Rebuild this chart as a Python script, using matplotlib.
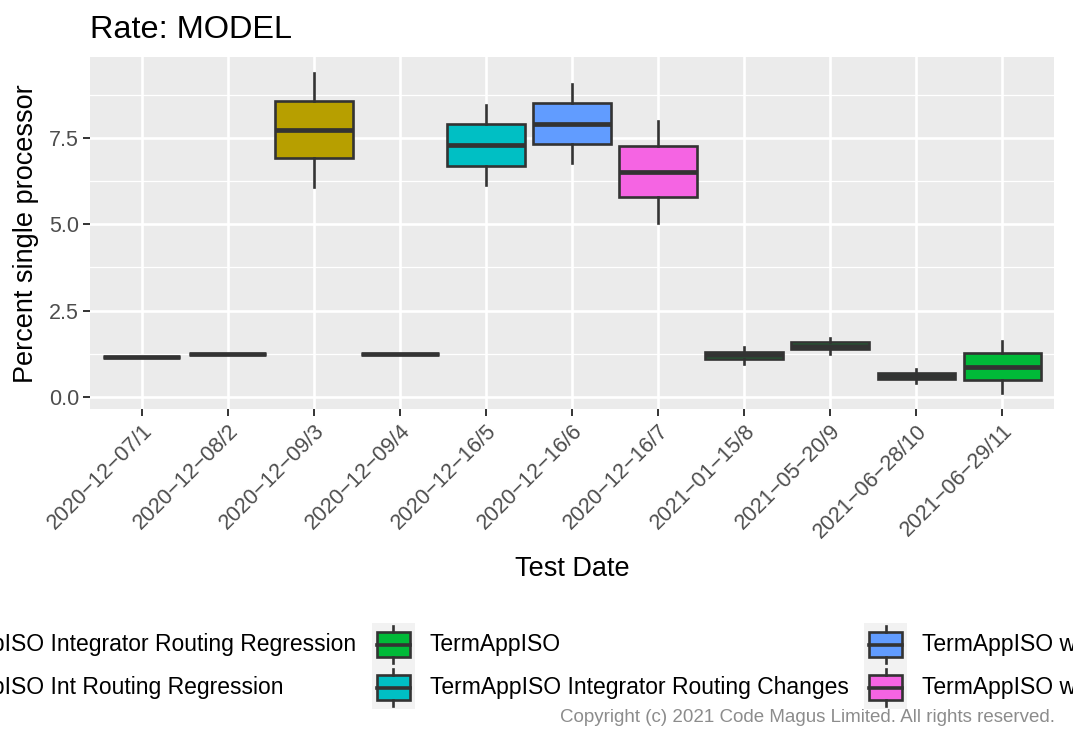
import matplotlib
matplotlib.use('Agg')
import matplotlib.pyplot as plt
from matplotlib.patches import Rectangle, Patch
from matplotlib.lines import Line2D
from matplotlib.legend_handler import HandlerBase
from matplotlib.ticker import MultipleLocator, FormatStrFormatter

plt.rcParams['font.family'] = ['Liberation Sans', 'DejaVu Sans']

# test runs on the x axis
test_dates = ['2020-12-07/1', '2020-12-08/2', '2020-12-09/3', '2020-12-09/4',
              '2020-12-16/5', '2020-12-16/6', '2020-12-16/7', '2021-01-15/8',
              '2021-05-20/9', '2021-06-28/10', '2021-06-29/11']

# which build each test run used (index into series_names)
run_series = [0, 0, 1, 1, 3, 4, 5, 2, 2, 2, 2]

# box statistics, percent single processor
whisker_low = [1.14, 1.25, 6.09, 1.24, 6.14, 6.77, 5.04, 0.95, 1.24, 0.39, 0.12]
q1 = [1.14, 1.25, 6.91, 1.24, 6.70, 7.33, 5.78, 1.08, 1.37, 0.50, 0.48]
median = [1.14, 1.25, 7.74, 1.24, 7.30, 7.92, 6.52, 1.20, 1.475, 0.60, 0.87]
q3 = [1.14, 1.25, 8.57, 1.24, 7.90, 8.52, 7.27, 1.31, 1.58, 0.70, 1.26]
whisker_high = [1.14, 1.25, 9.39, 1.24, 8.47, 9.08, 8.00, 1.45, 1.69, 0.80, 1.62]

series_names = ['TermAppISO Integrator Routing Regression',
                'TermAppISO Int Routing Regression',
                'TermAppISO',
                'TermAppISO Integrator Routing Changes',
                'TermAppISO with Routing Changes',
                'TermAppISO with Integrator Routing']
series_colors = ['#F8766D', '#B79F00', '#00BA38', '#00BFC4', '#619CFF', '#F564E3']

edge = '#333333'


class BoxKey(HandlerBase):
    # legend key that looks like a small boxplot on a grey square
    def create_artists(self, legend, orig_handle, xdescent, ydescent,
                       width, height, fontsize, trans):
        x0, y0 = -xdescent, -ydescent
        bg = Rectangle((x0, y0), width, height, facecolor='#F2F2F2',
                       edgecolor='none', transform=trans)
        bx, bw = x0 + 0.12 * width, 0.76 * width
        by, bh = y0 + 0.22 * height, 0.56 * height
        box = Rectangle((bx, by), bw, bh, facecolor=orig_handle.get_facecolor(),
                        edgecolor=edge, lw=1.9, transform=trans)
        cx = x0 + width / 2
        med = Line2D([bx, bx + bw], [y0 + height / 2] * 2, color=edge, lw=2.6,
                     transform=trans)
        top = Line2D([cx, cx], [by + bh, y0 + 0.93 * height], color=edge, lw=1.9,
                     transform=trans)
        bot = Line2D([cx, cx], [y0 + 0.07 * height, by], color=edge, lw=1.9,
                     transform=trans)
        return [bg, box, med, top, bot]


fig = plt.figure(figsize=(10.73, 7.30), dpi=100)
ax = fig.add_axes([0.0839, 0.4393, 0.8984, 0.4826])
ax.set_facecolor('#EBEBEB')

stats = []
for i in range(len(test_dates)):
    stats.append(dict(med=median[i], q1=q1[i], q3=q3[i],
                      whislo=whisker_low[i], whishi=whisker_high[i], fliers=[]))

positions = list(range(1, len(test_dates) + 1))
bp = ax.bxp(stats, positions=positions, widths=0.9, patch_artist=True,
            showcaps=False, showfliers=False,
            boxprops=dict(edgecolor=edge, linewidth=1.9),
            medianprops=dict(color=edge, linewidth=3.4, solid_capstyle='butt'),
            whiskerprops=dict(color=edge, linewidth=1.9))
for patch, s in zip(bp['boxes'], run_series):
    patch.set_facecolor(series_colors[s])
    patch.set_zorder(3)
for ln in bp['medians'] + bp['whiskers']:
    ln.set_zorder(4)

ax.set_xlim(0.4, len(test_dates) + 0.6)
ax.set_ylim(-0.365, 9.85)
ax.set_xticks(positions)
# R draws the hyphens of these labels as long dashes
ax.set_xticklabels([d.replace('-', '\u2212') for d in test_dates],
                   rotation=45, ha='right', va='top', rotation_mode='anchor')
ax.yaxis.set_major_locator(MultipleLocator(2.5))
ax.yaxis.set_minor_locator(MultipleLocator(1.25))
ax.yaxis.set_major_formatter(FormatStrFormatter('%.1f'))

ax.grid(which='major', color='white', linewidth=1.9)
ax.grid(which='minor', axis='y', color='white', linewidth=0.9)
ax.set_axisbelow(True)
for sp in ax.spines.values():
    sp.set_visible(False)
ax.tick_params(which='major', length=5, width=1.4, color=edge,
               labelsize=15.5, labelcolor='#4D4D4D', pad=3)
ax.tick_params(which='minor', length=0)

ax.set_xlabel('Test Date', fontsize=19.5, labelpad=10)
ax.set_ylabel('Percent single processor', fontsize=19.5, labelpad=7)
ax.set_title('Rate: MODEL', loc='left', fontsize=23.4, pad=14)

handles = [Patch(facecolor=c) for c in series_colors]
fig.legend(handles, series_names, loc='upper left',
           bbox_to_anchor=(-145 / 1073, 107 / 730), ncol=3, fontsize=16.5,
           frameon=False, handler_map={Patch: BoxKey()},
           handlelength=1.88, handleheight=2.51, handletextpad=0.65,
           columnspacing=0.68, labelspacing=0, borderpad=0, borderaxespad=0)

fig.text(1055 / 1073, 13 / 730,
         'Copyright (c) 2021 Code Magus Limited. All rights reserved.',
         ha='right', va='center', fontsize=13.5, color='#8C8C8C')

fig.savefig('out.png', dpi=100)
